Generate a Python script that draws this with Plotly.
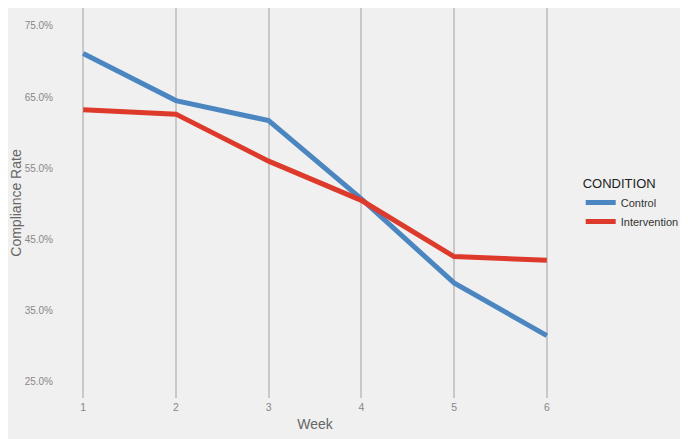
import plotly.graph_objects as go

# weekly compliance rates
weeks = [1, 2, 3, 4, 5, 6]
control = [0.711, 0.645, 0.617, 0.507, 0.389, 0.315]
intervention = [0.632, 0.626, 0.560, 0.505, 0.426, 0.421]

fig = go.Figure()
fig.add_trace(go.Scatter(x=weeks, y=control, name='Control', mode='lines',
                         line=dict(color='#4C86C0', width=5)))
fig.add_trace(go.Scatter(x=weeks, y=intervention, name='Intervention', mode='lines',
                         line=dict(color='#DE3A2C', width=5)))

# page body adds an 8px offset, so margins are shifted to compensate
fig.update_layout(
    width=688, height=439,
    paper_bgcolor='#F0F0F0', plot_bgcolor='#F0F0F0',
    margin=dict(l=52, r=126, t=0, b=49, autoexpand=False),
    font=dict(family='Liberation Sans, Arial, sans-serif', color='#555555'),
    legend=dict(title=dict(text='CONDITION', font=dict(size=13, color='#222222')),
                x=1.021, xanchor='left', y=0.582, yanchor='top', itemwidth=30,
                font=dict(size=11, color='#333333'), bgcolor='rgba(0,0,0,0)'),
)
fig.update_xaxes(range=[0.75, 6.25], tickvals=weeks, showgrid=True, gridcolor='#C8C8C8',
                 gridwidth=1.5, zeroline=False, showline=False, automargin=False,
                 tickfont=dict(size=10.5, color='#888888'), ticklabelstandoff=1,
                 title=dict(text='Week', font=dict(size=14, color='#666666'), standoff=7))
fig.update_yaxes(range=[0.2275, 0.775], tickvals=[0.25, 0.35, 0.45, 0.55, 0.65, 0.75],
                 tickformat='.1%', showgrid=False, zeroline=False, showline=False, automargin=False,
                 tickfont=dict(size=10, color='#888888'), ticklabelstandoff=6,
                 title=dict(text='Compliance Rate', font=dict(size=14, color='#666666'), standoff=8))

fig.write_html("out.html")
